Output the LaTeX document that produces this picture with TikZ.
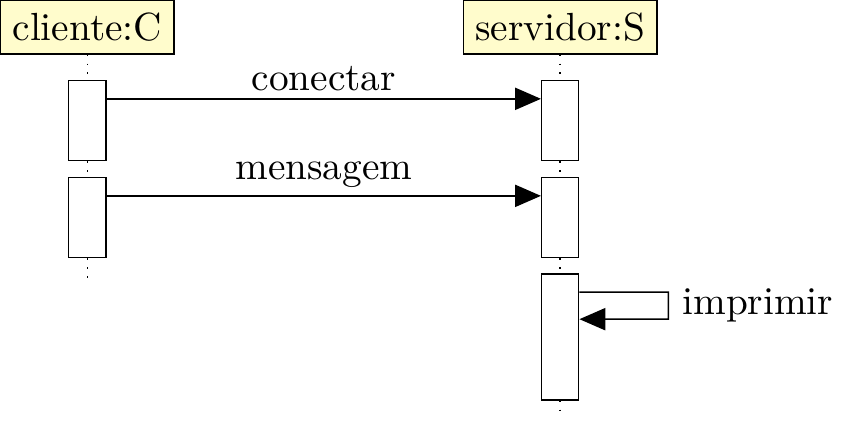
\documentclass[tikz,border=0pt]{standalone}
\usepackage{xcolor}
\usetikzlibrary{calc, arrows.meta, positioning}
\tikzset{
    headnode/.style = {draw, rectangle, fill=yellow!20, inner xsep=3.2pt, minimum height=14.3pt, node distance=0em,
      font=\fontsize{10.6pt}{12.7pt}\selectfont},
    actnode/.style = {draw, rectangle, fill=white, inner sep=0em, minimum width=1em, node distance=0em},
    labelnode/.style = {inner sep=2pt, font=\fontsize{10.6pt}{12.7pt}\selectfont},
    lifeline/.style = {dotted},
    msg/.style = {black, -{Triangle[length=0.7em, width=0.6em]}}
}

\begin{document}
\begin{tikzpicture}
    \node [name=cli, headnode] {cliente:C};
    \node [name=srv, headnode, right of = cli, xshift=12.77em] {servidor:S};

    % activations
    \node [name=ca1, actnode, minimum height=2.16em, below of = cli, yshift=-2.52em] {};
    \node [name=ca2, actnode, minimum height=2.16em, below of = cli, yshift=-5.14em] {};
    \node [name=sa1, actnode, minimum height=2.16em, below of = srv, yshift=-2.52em] {};
    \node [name=sa2, actnode, minimum height=2.16em, below of = srv, yshift=-5.14em] {};
    \node [name=sa3, actnode, minimum height=3.40em, below of = srv, yshift=-8.36em] {};

    % lifelines
    \draw [lifeline] (cli.south) -- (ca1.north);
    \draw [lifeline] (ca1.south) -- (ca2.north);
    \draw [lifeline] (ca2.south) -- ++(0,-0.54em);
    \draw [lifeline] (srv.south) -- (sa1.north);
    \draw [lifeline] (sa1.south) -- (sa2.north);
    \draw [lifeline] (sa2.south) -- (sa3.north);
    \draw [lifeline] (sa3.south) -- ++(0,-0.43em);

    % messages
    \draw [msg] ([yshift=-0.51em]ca1.north east) -- node[labelnode, above]{conectar} ([yshift=-0.51em]sa1.north west);
    \draw [msg] ([yshift=-0.51em]ca2.north east) -- node[labelnode, above]{mensagem} ([yshift=-0.51em]sa2.north west);
    \draw [msg] ([yshift=-0.51em]sa3.north east) -- ++(2.4em,0) -- node[labelnode, right, inner sep=3.6pt]{imprimir} ++(0,-0.73em)
        -- ([yshift=-1.24em]sa3.north east);

    \pgfresetboundingbox
    \useasboundingbox (cli.north west) rectangle ($(cli.north west)+(22.79em,-11.56em)$);
\end{tikzpicture}
\end{document}
